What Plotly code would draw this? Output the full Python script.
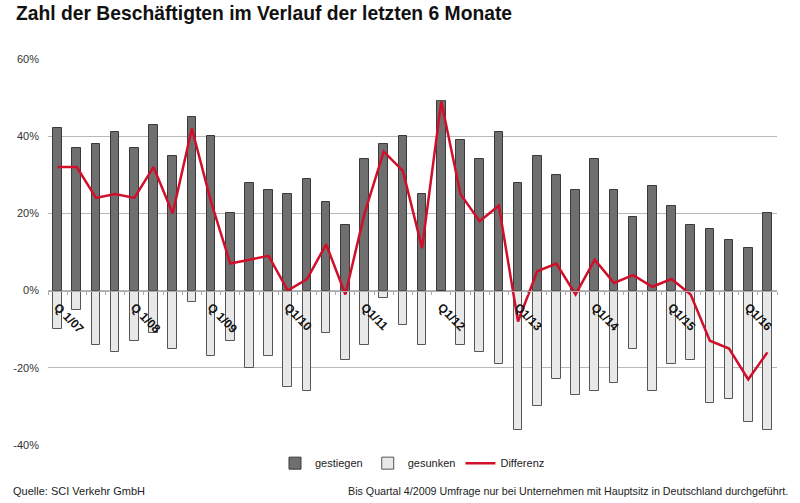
import plotly.graph_objects as go

quarters = ["Q1/07","Q2/07","Q3/07","Q4/07","Q1/08","Q2/08","Q3/08","Q4/08",
            "Q1/09","Q2/09","Q3/09","Q4/09","Q1/10","Q2/10","Q3/10","Q4/10",
            "Q1/11","Q2/11","Q3/11","Q4/11","Q1/12","Q2/12","Q3/12","Q4/12",
            "Q1/13","Q2/13","Q3/13","Q4/13","Q1/14","Q2/14","Q3/14","Q4/14",
            "Q1/15","Q2/15","Q3/15","Q4/15","Q1/16","Q2/16"]
gestiegen = [42, 37, 38, 41, 37, 43, 35, 45, 40, 20, 28, 26, 25, 29, 23, 17, 34, 38, 40, 25,
             49, 39, 34, 41, 28, 35, 30, 26, 34, 26, 19, 27, 22, 17, 16, 13, 11, 20]
gesunken = [-10, -5, -14, -16, -13, -11, -15, -3, -17, -13, -20, -17, -25, -26, -11, -18, -14, -2, -9, -14,
            0, -14, -16, -19, -36, -30, -23, -27, -26, -24, -15, -26, -19, -18, -29, -28, -34, -36]
differenz = [32, 32, 24, 25, 24, 32, 20, 42, 23, 7, 8, 9, 0, 3, 12, -1, 20, 36, 31, 11,
             49, 25, 18, 22, -8, 5, 7, -1, 8, 2, 4, 1, 3, -1, -13, -15, -23, -16]
label_idx = [0, 4, 8, 12, 16, 20, 24, 28, 32, 36]
label_text = ["Q 1/07", "Q 1/08", "Q 1/09", "Q1/10", "Q1/11", "Q1/12", "Q1/13", "Q1/14", "Q1/15", "Q1/16"]
y_ticks = [-40, -20, 0, 20, 40, 60]
y_ticktext = ["-40%", "-20%", "0%", "20%", "40%", "60%"]

x = list(range(len(quarters)))
FONT = "Liberation Sans, Arial, sans-serif"

fig = go.Figure()
fig.add_trace(go.Bar(x=x, y=gestiegen, name="gestiegen", width=0.45,
                     marker=dict(color="#6f6f6f", line=dict(color="#3a3a3a", width=1))))
fig.add_trace(go.Bar(x=x, y=gesunken, name="gesunken", width=0.45,
                     marker=dict(color="#e8e8e8", line=dict(color="#555555", width=1))))
fig.add_trace(go.Scatter(x=x, y=differenz, name="Differenz", mode="lines",
                         line=dict(color="#d0102a", width=2.5)))

fig.update_layout(
    width=800, height=503,
    margin=dict(l=48, r=23, t=59, b=58),
    paper_bgcolor="white", plot_bgcolor="white",
    barmode="relative", bargap=0,
    font=dict(family=FONT, size=11, color="#333333"),
    showlegend=True,
    legend=dict(orientation="h", x=0.5, xanchor="center", y=-0.047, yanchor="middle",
                font=dict(size=11, color="#222222"), itemwidth=30, tracegroupgap=0),
    xaxis=dict(range=[-0.5, 37.5], anchor="free", position=0.4,
               tickmode="array", tickvals=label_idx, ticktext=label_text,
               tickangle=45, ticks="", showgrid=False, zeroline=False,
               showline=True, linecolor="#aaaaaa", linewidth=1, ticklabelstandoff=4,
               tickfont=dict(size=12, color="#111111", family=FONT, weight="bold"),
               minor=dict(ticks="outside", tickmode="linear", tick0=-0.5, dtick=1,
                          ticklen=3, tickcolor="#aaaaaa", showgrid=False)),
    yaxis=dict(range=[-40, 60], tickmode="array", tickvals=y_ticks, ticktext=y_ticktext,
               showgrid=True, gridcolor="#b8b8b8", gridwidth=1, zeroline=False,
               ticks="", ticklabelstandoff=8, tickfont=dict(size=11, color="#333333")),
)

fig.add_annotation(text="<b>Zahl der Beschäftigten im Verlauf der letzten 6 Monate</b>",
                   xref="paper", yref="paper", x=-34/729, y=1 + 46/386,
                   xanchor="left", yanchor="middle", showarrow=False,
                   font=dict(size=19.3, color="#111111", family=FONT))
fig.add_annotation(text="Quelle: SCI Verkehr GmbH", xref="paper", yref="paper",
                   x=-37/729, y=-46/386, xanchor="left", yanchor="middle", showarrow=False,
                   font=dict(size=11, color="#222222"))
fig.add_annotation(text="Bis Quartal 4/2009 Umfrage nur bei Unternehmen mit Hauptsitz in Deutschland durchgeführt.",
                   xref="paper", yref="paper", x=1 + 13/729, y=-46/386, xanchor="right", yanchor="middle",
                   showarrow=False, font=dict(size=10.7, color="#222222"))

fig.write_html("out.html", config={"displayModeBar": False},
               post_script="document.body.style.margin='0px';")
